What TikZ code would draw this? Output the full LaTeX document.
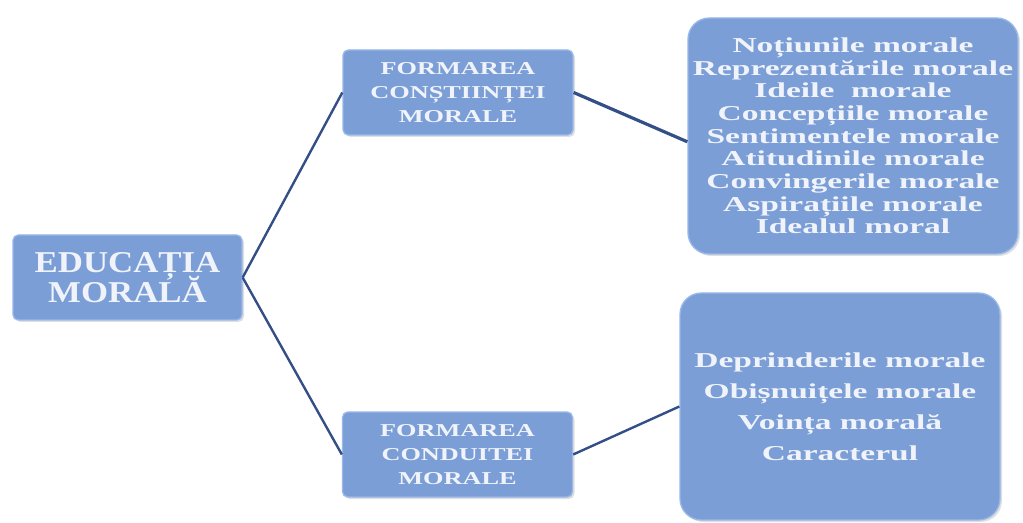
\documentclass[tikz,border=0pt]{standalone}
\usepackage{fontspec}
\setmainfont{Liberation Serif}
\newfontfamily\headfont[FakeStretch=1.15]{Liberation Serif Bold}
\newfontfamily\midfont[FakeStretch=1.45]{Liberation Serif Bold}
\newfontfamily\listfont[FakeStretch=1.58]{Liberation Serif Bold}
\usepackage{xcolor}
\usetikzlibrary{shadows}
\definecolor{boxblue}{RGB}{124,158,214}
\definecolor{boxedge}{RGB}{152,184,234}
\definecolor{linkblue}{RGB}{52,78,134}
\definecolor{textwhite}{RGB}{240,244,250}
\newcommand{\tightlines}{\lineskiplimit-20pt\relax}

\begin{document}
\begin{tikzpicture}[x=0.75pt, y=-0.75pt, thick,
    box/.style={draw=boxedge, line width=1pt, fill=boxblue, text=textwhite,
      align=center, inner sep=0pt,
      drop shadow={opacity=0.25, shadow xshift=1.5pt, shadow yshift=-1.5pt}},
    leftbox/.style={box, rounded corners=4pt, minimum width=171.75pt, minimum height=63.75pt,
      font=\headfont\fontsize{22.7}{22}\selectfont\tightlines},
    headbox/.style={box, rounded corners=4pt, minimum width=172.5pt, minimum height=63.75pt,
      font=\midfont\fontsize{13.6}{18}\selectfont\tightlines},
    listbox/.style={box, rounded corners=16pt},
    link/.style={draw=linkblue, line width=1.8pt}]
  \useasboundingbox (0,0) rectangle (1023,523);

  % Nodes
  \node[leftbox] (EM) at (127.5,277.5) {EDUCAȚIA\\MORALĂ};
  \node[headbox] (CC) at (458,92.5) {FORMAREA\\CONȘTIINȚEI\\MORALE};
  \node[headbox] (CD) at (457.5,454.5) {FORMAREA\\CONDUITEI\\MORALE};
  \node[listbox, minimum width=247.5pt, minimum height=177pt,
    font=\listfont\fontsize{15.9}{17}\selectfont] (TR) at (853,136)
    {Noțiunile morale\\Reprezentările morale\\Ideile~ morale\\Concepțiile morale\\
     Sentimentele morale\\Atitudinile morale\\Convingerile morale\\Aspirațiile morale\\
     Idealul moral};
  \node[listbox, minimum width=240pt, minimum height=170.25pt,
    font=\listfont\fontsize{15.9}{23.25}\selectfont] (BR) at (840,406.5)
    {Deprinderile morale\\Obișnuițele morale\\Voința morală\\Caracterul};

  % Links
  \draw[link] (EM.east) -- (CC.west);
  \draw[link] (EM.east) -- (CD.west);
  \draw[link, line width=2.4pt] (CC.east) -- (TR.182);
  \draw[link] (CD.east) -- (BR.west);
\end{tikzpicture}
\end{document}
